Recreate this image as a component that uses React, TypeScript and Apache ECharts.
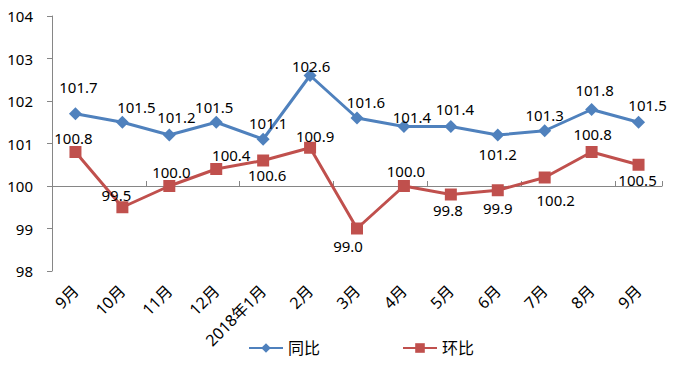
import React, { useEffect, useRef } from "react";
import * as echarts from "echarts";

const categories = ["9月", "10月", "11月", "12月", "2018年1月", "2月", "3月", "4月", "5月", "6月", "7月", "8月", "9月"];
const yoyValues = [101.7, 101.5, 101.2, 101.5, 101.1, 102.6, 101.6, 101.4, 101.4, 101.2, 101.3, 101.8, 101.5];
const momValues = [100.8, 99.5, 100.0, 100.4, 100.6, 100.9, 99.0, 100.0, 99.8, 99.9, 100.2, 100.8, 100.5];
const yTicks = [98, 99, 100, 101, 102, 103, 104];

// label placement (offset from point centre), layout only
const yoyLabelOffsets = [[3, -27], [14, -15], [7, -18], [-2, -15], [5, -16], [1, -10], [9, -16], [8, -10], [4, -18], [0, 19], [0, -16], [3, -20], [9, -17]];
const momLabelOffsets = [[-2, -14], [-6, -12], [2, -14], [15, -14], [4, 14], [5, -12], [-9, 17], [2, -15], [-3, 15], [0, 18], [11, 22], [1, -18], [-1, 15]];

const FONT = "Noto Sans, Noto Sans CJK SC, sans-serif";

export default function App() {
  const ref = useRef<HTMLDivElement>(null);
  useEffect(() => {
    if (!ref.current) return;
    const chart = echarts.init(ref.current, undefined, { renderer: "svg" });
    const mkData = (vals: number[], offs: number[][]) =>
      vals.map((v, i) => ({
        value: v,
        label: { offset: offs[i] },
      }));
    chart.setOption({
      animation: false,
      textStyle: { fontFamily: FONT },
      grid: { left: 52, right: 11, top: 16, bottom: 105, containLabel: false },
      legend: {
        bottom: 15,
        left: 243,
        itemWidth: 34,
        itemHeight: 12,
        itemGap: 82,
        textStyle: { fontSize: 16, color: "#000", fontFamily: FONT },
        data: ["同比", "环比"],
      },
      xAxis: [
        {
          type: "category",
          data: categories,
          position: "bottom",
          offset: -85,
          boundaryGap: true,
          axisLine: { show: true, lineStyle: { color: "#868686", width: 1 } },
          axisTick: { show: true, inside: true, length: 5, lineStyle: { color: "#868686" } },
          axisLabel: { show: false },
          splitLine: { show: false },
        },
        {
          type: "category",
          data: categories,
          position: "bottom",
          boundaryGap: true,
          axisLine: { show: false },
          axisTick: { show: false },
          axisLabel: {
            show: true,
            rotate: 45,
            interval: 0,
            margin: 17,
            fontSize: 16,
            color: "#000",
            fontFamily: FONT,
          },
        },
      ],
      yAxis: {
        type: "value",
        min: yTicks[0],
        max: yTicks[yTicks.length - 1],
        interval: 1,
        axisLine: { show: true, lineStyle: { color: "#868686" } },
        axisTick: { show: true, length: 5, lineStyle: { color: "#868686" } },
        axisLabel: { fontSize: 15, color: "#000", margin: 19, fontFamily: FONT },
        splitLine: { show: false },
      },
      series: [
        {
          name: "同比",
          type: "line",
          xAxisIndex: 0,
          data: mkData(yoyValues, yoyLabelOffsets),
          symbol: "diamond",
          symbolSize: 13,
          lineStyle: { color: "#4F81BD", width: 3 },
          itemStyle: { color: "#4F81BD" },
          label: {
            show: true,
            position: "inside",
            fontSize: 15,
            color: "#000",
            fontFamily: FONT,
            formatter: (p: any) => Number(p.value).toFixed(1),
          },
          z: 3,
        },
        {
          name: "环比",
          type: "line",
          xAxisIndex: 0,
          data: mkData(momValues, momLabelOffsets),
          symbol: "rect",
          symbolSize: 12,
          lineStyle: { color: "#C0504D", width: 3 },
          itemStyle: { color: "#C0504D" },
          label: {
            show: true,
            position: "inside",
            fontSize: 15,
            color: "#000",
            fontFamily: FONT,
            formatter: (p: any) => Number(p.value).toFixed(1),
          },
          z: 2,
        },
      ],
    });
    return () => chart.dispose();
  }, []);
  return <div ref={ref} style={{ width: 673, height: 376, position: "absolute", left: 0, top: 0 }} />;
}
